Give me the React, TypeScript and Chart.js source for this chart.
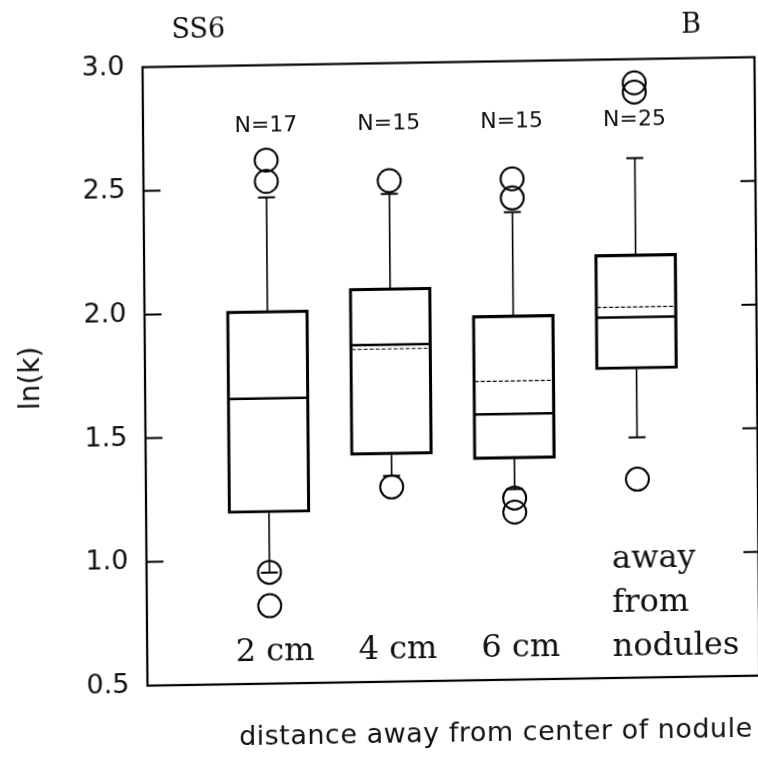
import React, { useEffect, useRef } from "react";
import { Chart, registerables } from "chart.js";

Chart.register(...registerables);

// ---- data ----
const groupPositions = [1, 2, 3, 4];
const nLabels = ["N=17", "N=15", "N=15", "N=25"];
const categoryLabels = [["2 cm"], ["4 cm"], ["6 cm"], ["away", "from", "nodules"]];
const q1 = [1.19, 1.417, 1.392, 1.747];
const q3 = [2.008, 2.092, 1.974, 2.212];
const medians = [1.653, 1.862, 1.574, 1.957];
const means = [1.653, 1.845, 1.707, 1.998];
const whiskerLow = [0.949, 1.332, 1.27, 1.471];
const whiskerHigh = [2.465, 2.472, 2.39, 2.6];
const outliers = [
  [2.616, 2.53, 0.95, 0.815],
  [2.525, 1.287],
  [2.524, 2.447, 1.234, 1.177],
  [2.904, 2.867, 1.302],
];
const yTicks = [0.5, 1.0, 1.5, 2.0, 2.5, 3.0];
const nLabelValue = 2.755;

const BOX_W = 82;
const CAP_W = 17;

const boxPlugin = {
  id: "boxExtras",
  afterDatasetsDraw(chart: any) {
    const { ctx, chartArea, scales } = chart;
    const xs = scales.x;
    const ys = scales.y;
    ctx.save();
    ctx.strokeStyle = "#000";
    ctx.lineCap = "butt";
    groupPositions.forEach((g, i) => {
      const cx = xs.getPixelForValue(g);
      const half = BOX_W / 2;
      // whiskers
      ctx.lineWidth = 1.6;
      ctx.setLineDash([]);
      ctx.beginPath();
      ctx.moveTo(cx, ys.getPixelForValue(q3[i]));
      ctx.lineTo(cx, ys.getPixelForValue(whiskerHigh[i]));
      ctx.moveTo(cx, ys.getPixelForValue(q1[i]));
      ctx.lineTo(cx, ys.getPixelForValue(whiskerLow[i]));
      ctx.stroke();
      // caps
      ctx.lineWidth = 2;
      ctx.beginPath();
      const yh = ys.getPixelForValue(whiskerHigh[i]);
      const yl = ys.getPixelForValue(whiskerLow[i]);
      ctx.moveTo(cx - CAP_W / 2, yh);
      ctx.lineTo(cx + CAP_W / 2, yh);
      ctx.moveTo(cx - CAP_W / 2, yl);
      ctx.lineTo(cx + CAP_W / 2, yl);
      ctx.stroke();
      // mean (thin, dotted)
      ctx.lineWidth = 1.2;
      ctx.setLineDash([4, 2]);
      const ym = ys.getPixelForValue(means[i]);
      ctx.beginPath();
      ctx.moveTo(cx - half + 2, ym);
      ctx.lineTo(cx + half - 2, ym);
      ctx.stroke();
      // median (thick)
      ctx.setLineDash([]);
      ctx.lineWidth = 2.5;
      const yMed = ys.getPixelForValue(medians[i]);
      ctx.beginPath();
      ctx.moveTo(cx - half + 1, yMed);
      ctx.lineTo(cx + half - 1, yMed);
      ctx.stroke();
    });

    // frame
    ctx.lineWidth = 2.2;
    ctx.strokeRect(chartArea.left, chartArea.top, chartArea.right - chartArea.left, chartArea.bottom - chartArea.top);
    // inward ticks
    ctx.lineWidth = 2;
    ctx.beginPath();
    yTicks.forEach((v) => {
      if (v <= 0.5 || v >= 3.0) return;
      const y = ys.getPixelForValue(v);
      ctx.moveTo(chartArea.left, y);
      ctx.lineTo(chartArea.left + 17, y);
      ctx.moveTo(chartArea.right, y);
      ctx.lineTo(chartArea.right - 15, y);
    });
    ctx.stroke();

    // N labels
    ctx.fillStyle = "#111";
    ctx.font = "22px 'DejaVu Sans'";
    ctx.textAlign = "center";
    ctx.textBaseline = "middle";
    groupPositions.forEach((g, i) => {
      ctx.fillText(nLabels[i], xs.getPixelForValue(g), ys.getPixelForValue(nLabelValue));
    });

    // category labels inside plot
    ctx.font = "32px 'DejaVu Serif'";
    ctx.textBaseline = "alphabetic";
    groupPositions.forEach((g, i) => {
      const lines = categoryLabels[i];
      const cx = xs.getPixelForValue(g);
      if (lines.length === 1) {
        ctx.textAlign = "center";
        ctx.fillText(lines[0], cx + 5, chartArea.bottom - 23);
      } else {
        ctx.textAlign = "left";
        lines.forEach((t, k) => {
          ctx.fillText(t, cx - 26, chartArea.bottom - 22 - (lines.length - 1 - k) * 44);
        });
      }
    });

    // titles
    ctx.font = "27px 'DejaVu Serif'";
    ctx.textAlign = "center";
    ctx.fillText("SS6", 198, 41);
    ctx.fillText("B", 691, 44);

    ctx.font = "27px 'DejaVu Sans'";
    (ctx as any).letterSpacing = "0.5px";
    ctx.textBaseline = "middle";
    ctx.fillText("distance away from center of nodule", 490, 742);
    ctx.restore();
  },
};

export default function App() {
  const canvasRef = useRef<HTMLCanvasElement | null>(null);

  useEffect(() => {
    const canvas = canvasRef.current;
    if (!canvas) return;
    const boxData = groupPositions.map((g, i) => ({ x: g, y: [q1[i], q3[i]] }));
    const outlierPoints: { x: number; y: number }[] = [];
    groupPositions.forEach((g, i) => outliers[i].forEach((v) => outlierPoints.push({ x: g, y: v })));

    const chart = new Chart(canvas, {
      type: "bar",
      data: {
        datasets: [
          {
            type: "bar",
            data: boxData as any,
            backgroundColor: "rgba(0,0,0,0)",
            borderColor: "#000",
            borderWidth: 2.5,
            borderSkipped: false,
            barThickness: BOX_W,
            order: 2,
          } as any,
          {
            type: "scatter",
            data: outlierPoints,
            pointRadius: 11.5,
            borderColor: "#000",
            backgroundColor: "rgba(0,0,0,0)",
            borderWidth: 2,
            order: 1,
          } as any,
        ],
      },
      options: {
        animation: false,
        responsive: false,
        devicePixelRatio: 1,
        layout: { autoPadding: false, padding: { left: 0, right: 4, top: 69.5, bottom: 76 } },
        plugins: { legend: { display: false }, tooltip: { enabled: false } },
        scales: {
          x: { type: "linear", min: 0, max: 4.98, display: false, offset: false },
          y: {
            type: "linear",
            min: 0.5,
            max: 3.0,
            afterBuildTicks: (s: any) => {
              s.ticks = yTicks.map((v) => ({ value: v }));
            },
            ticks: {
              callback: (v: any) => Number(v).toFixed(1),
              font: { family: "'DejaVu Sans'", size: 27 },
              color: "#111",
              padding: 18,
            },
            grid: { drawOnChartArea: false, drawTicks: false },
            border: { display: false },
            title: {
              display: true,
              text: "ln(k)",
              font: { family: "'DejaVu Sans'", size: 28 },
              color: "#111",
              padding: { top: 12, bottom: 0 },
            },
            afterFit: (s: any) => {
              s.width = 142;
            },
          } as any,
        },
      },
      plugins: [boxPlugin],
    });
    return () => chart.destroy();
  }, []);

  return (
    <div
      style={{
        position: "absolute",
        left: 0,
        top: 0,
        width: 758,
        height: 764,
        background: "#fff",
        transform: "matrix(1, -0.0164, 0.008, 1, 0, 0)",
        transformOrigin: "0 0",
      }}
    >
      <canvas ref={canvasRef} width={758} height={764} style={{ width: 758, height: 764, display: "block" }} />
    </div>
  );
}
